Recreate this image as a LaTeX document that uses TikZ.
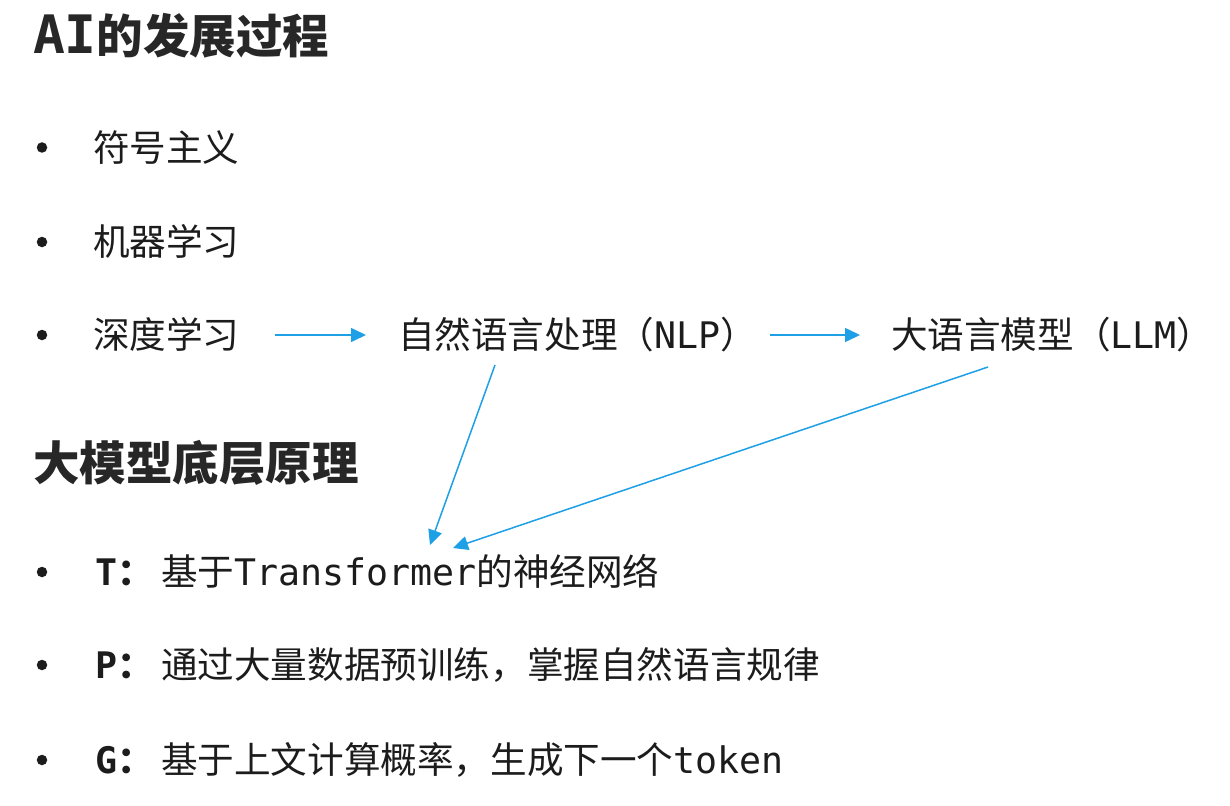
\documentclass[tikz,border=0pt]{standalone}
\usepackage{fontspec}
\setmainfont{Noto Sans CJK SC}
\newfontfamily\lat[Scale=1.0]{DejaVu Sans Mono}
\usetikzlibrary{arrows.meta}
\definecolor{ink}{RGB}{28,28,28}
\definecolor{arrblue}{RGB}{30,160,230}
\newcommand{\lbl}[1]{\makebox[66pt][l]{{\lat\bfseries #1}\textbf{：}}}
\tikzset{
  txt/.style={anchor=base west, inner sep=0pt, outer sep=0pt, text=ink, font=\fontsize{36.6}{40}\selectfont},
  ttl/.style={anchor=base west, inner sep=0pt, outer sep=0pt, text=ink!95!white, font=\fontsize{46.5}{50}\selectfont\bfseries},
  dot/.style={circle, fill=ink, inner sep=0pt, minimum size=10.5pt},
  arr/.style={draw=arrblue, line width=1.5pt, -{Triangle[length=15pt, width=14pt]}}
}
\begin{document}
\begin{tikzpicture}[x=1pt, y=-1pt]
\fill[white] (0,0) rectangle (1230,805);
\useasboundingbox (0,0) rectangle (1230,805);

% titles
\node[ttl] (t1) at (33,54) {{\fontsize{53}{50}\selectfont\lat\bfseries AI}的发展过程};
\node[ttl] (t2) at (33,480.5) {大模型底层原理};

% bullets
\node[dot] (b1) at (42,147.5) {};
\node[dot] (b2) at (42,242) {};
\node[dot] (b3) at (42,335) {};
\node[dot] (b4) at (42,572) {};
\node[dot] (b5) at (42,665) {};
\node[dot] (b6) at (42,760) {};

% first section
\node[txt] (s1) at (93,161) {符号主义};
\node[txt] (s2) at (93,255.5) {机器学习};
\node[txt] (dl) at (93,348.5) {深度学习};
\node[txt] (nlp) at (398,348.5) {自然语言处理（{\lat NLP}）};
\node[txt] (llm) at (891,348.5) {大语言模型（{\lat LLM}）};

% second section
\node[txt] (pt) at (95,585.5) {\lbl{T}基于{\lat Transformer}的神经网络};
\node[txt] (pp) at (95,678.5) {\lbl{P}通过大量数据预训练，掌握自然语言规律};
\node[txt] (pg) at (95,773.5) {\lbl{G}基于上文计算概率，生成下一个{\lat token}};

% arrows
\draw[arr] ([shift={(182,-13.5)}]dl.base west) -- ([shift={(-32,-13.5)}]nlp.base west);
\draw[arr] ([shift={(372,-13.5)}]nlp.base west) -- ([shift={(-31,-13.5)}]llm.base west);
\draw[arr] ([shift={(97,16.5)}]nlp.base west) -- ([shift={(335,-40.5)}]pt.base west);
\draw[arr] ([shift={(97,18.5)}]llm.base west) -- ([shift={(358,-37.5)}]pt.base west);
\end{tikzpicture}
\end{document}
